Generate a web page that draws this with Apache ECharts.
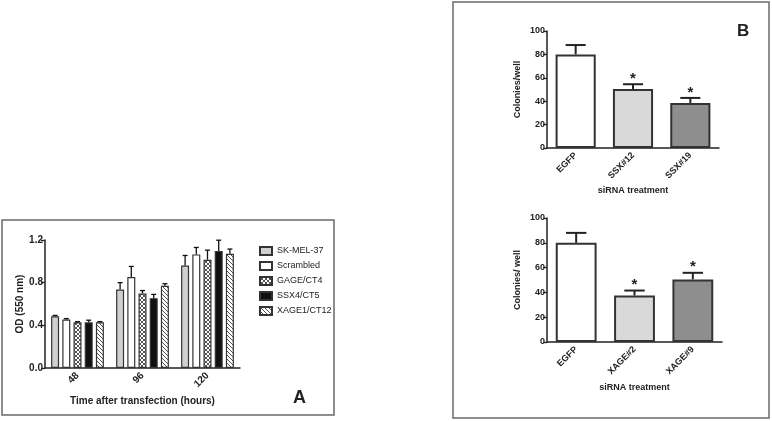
<!DOCTYPE html>
<html>
<head>
<meta charset="utf-8">
<script src="https://cdn.jsdelivr.net/npm/echarts@6/dist/echarts.min.js"></script>
<style>html,body{margin:0;padding:0;background:#fff}#c{width:772px;height:421px}</style>
</head>
<body>
<div id="c"></div>
<script>
// ---------- Data ----------
const timeCats = ['48', '96', '120'];
const aNames = ['SK-MEL-37', 'Scrambled', 'GAGE/CT4', 'SSX4/CT5', 'XAGE1/CT12'];
const skMel = [0.485, 0.735, 0.96];
const skMelErr = [0.008, 0.065, 0.095];
const scrambled = [0.455, 0.852, 1.065];
const scrambledErr = [0.008, 0.10, 0.065];
const gage = [0.428, 0.698, 1.015];
const gageErr = [0.006, 0.028, 0.09];
const ssx4 = [0.428, 0.655, 1.098];
const ssx4Err = [0.02, 0.035, 0.10];
const xage1 = [0.428, 0.77, 1.07];
const xage1Err = [0.007, 0.02, 0.045];
const aTicks = [0, 0.4, 0.8, 1.2];

const b1Cats = ['EGFP', 'SSX#12', 'SSX#19'];
const b1Vals = [80, 50.5, 38.5];
const b1Err = [8, 4, 4.3];
const b1Star = [false, true, true];

const b2Cats = ['EGFP', 'XAGE#2', 'XAGE#9'];
const b2Vals = [80, 37.5, 50.5];
const b2Err = [8, 4, 5.3];
const b2Star = [false, true, true];

// ---------- Patterns ----------
function makePattern(kind) {
  const c = document.createElement('canvas');
  c.width = 4; c.height = 4;
  const g = c.getContext('2d');
  g.fillStyle = '#ffffff'; g.fillRect(0, 0, 4, 4);
  g.strokeStyle = '#555'; g.lineWidth = 1;
  g.beginPath();
  if (kind === 'cross' || kind === 'slash') {
    g.moveTo(0, 4); g.lineTo(4, 0);
  }
  if (kind === 'cross' || kind === 'back') {
    g.moveTo(0, 0); g.lineTo(4, 4);
  }
  g.stroke();
  return { image: c, repeat: 'repeat' };
}

const FONT = 'Liberation Sans, Arial, sans-serif';
const TXT = '#222';
const aVals = [skMel, scrambled, gage, ssx4, xage1];
const aErrs = [skMelErr, scrambledErr, gageErr, ssx4Err, xage1Err];
const aFills = ['#d0d0d0', '#ffffff', makePattern('cross'), '#111111', makePattern('back')];

const BW = 8, GAP = 3.2;

const series = [];
aNames.forEach((n, i) => {
  series.push({
    name: n, type: 'bar', xAxisIndex: 0, yAxisIndex: 0,
    data: aVals[i], barWidth: BW, barGap: (GAP / BW * 100) + '%',
    itemStyle: { color: aFills[i], borderColor: '#333', borderWidth: 1.2 },
    emphasis: { disabled: true }
  });
});

const aErrData = [];
aVals.forEach((arr, si) => arr.forEach((v, ci) => aErrData.push([ci, v, aErrs[si][ci], si])));
series.push({
  type: 'custom', xAxisIndex: 0, yAxisIndex: 0, z: 5, silent: true,
  data: aErrData,
  renderItem: (params, api) => {
    const ci = api.value(0), v = api.value(1), e = api.value(2), si = api.value(3);
    const off = (si - 2) * (BW + GAP);
    const b = api.coord([ci, v]), t = api.coord([ci, v + e]);
    const x = b[0] + off, hw = 2.5;
    const st = { stroke: '#111', lineWidth: 1.3 };
    return { type: 'group', children: [
      { type: 'line', shape: { x1: x, y1: b[1], x2: x, y2: t[1] }, style: st },
      { type: 'line', shape: { x1: x - hw, y1: t[1], x2: x + hw, y2: t[1] }, style: st }
    ]};
  }
});

const bFills = ['#ffffff', '#d9d9d9', '#8e8e8e'];
function addB(idx, vals, errs, stars) {
  series.push({
    type: 'bar', xAxisIndex: idx, yAxisIndex: idx, barWidth: '70%',
    data: vals.map((v, i) => ({ value: v, itemStyle: { color: bFills[i] } })),
    itemStyle: { borderColor: '#333', borderWidth: 2 },
    emphasis: { disabled: true }
  });
  series.push({
    type: 'custom', xAxisIndex: idx, yAxisIndex: idx, z: 5, silent: true,
    data: vals.map((v, i) => [i, v, errs[i], stars[i] ? 1 : 0]),
    renderItem: (params, api) => {
      const ci = api.value(0), v = api.value(1), e = api.value(2), s = api.value(3);
      const b = api.coord([ci, v]), t = api.coord([ci, v + e]);
      const hw = api.size([1, 0])[0] * 0.175;
      const st = { stroke: '#222', lineWidth: 2 };
      const ch = [
        { type: 'line', shape: { x1: b[0], y1: b[1], x2: b[0], y2: t[1] }, style: st },
        { type: 'line', shape: { x1: b[0] - hw, y1: t[1], x2: b[0] + hw, y2: t[1] }, style: st }
      ];
      if (s) ch.push({ type: 'text', style: { text: '*', x: b[0], y: t[1] + 2, align: 'center', verticalAlign: 'bottom', font: 'bold 15px ' + FONT, fill: '#222' } });
      return { type: 'group', children: ch };
    }
  });
}
addB(1, b1Vals, b1Err, b1Star);
addB(2, b2Vals, b2Err, b2Star);

function xAx(idx, cats, name, gap, fs) {
  return {
    type: 'category', gridIndex: idx, data: cats,
    axisLine: { lineStyle: { color: '#222', width: 1.5 } },
    axisTick: { alignWithLabel: true, length: 4, lineStyle: { color: '#222', width: 1.3 } },
    axisLabel: { rotate: 45, color: TXT, fontFamily: FONT, fontWeight: 'bold', fontSize: fs, margin: 6 },
    name: name, nameLocation: 'middle', nameGap: gap,
    nameTextStyle: { color: TXT, fontFamily: FONT, fontWeight: 'bold', fontSize: idx === 0 ? 10 : 9 }
  };
}
function yAx(idx, max, interval, name, gap, fs, fmt) {
  return {
    type: 'value', gridIndex: idx, min: 0, max: max, interval: interval,
    axisLine: { show: true, lineStyle: { color: '#222', width: 1.5 } },
    axisTick: { show: true, length: 4, lineStyle: { color: '#222', width: 1.3 } },
    splitLine: { show: false },
    axisLabel: { color: TXT, fontFamily: FONT, fontWeight: 'bold', fontSize: fs, margin: 2, formatter: fmt },
    name: name, nameLocation: 'middle', nameGap: gap,
    nameTextStyle: { color: TXT, fontFamily: FONT, fontWeight: 'bold', fontSize: idx === 0 ? 10 : 9 }
  };
}

const chart = echarts.init(document.getElementById('c'), null, { renderer: 'canvas' });
chart.setOption({
  animation: false,
  backgroundColor: '#fff',
  grid: [
    { left: 45, top: 240, width: 195, height: 128 },
    { left: 547, top: 31, width: 172, height: 117 },
    { left: 547, top: 218, width: 175, height: 124 }
  ],
  xAxis: [
    xAx(0, timeCats, 'Time after transfection (hours)', 28, 10),
    xAx(1, b1Cats, 'siRNA treatment', 38, 9),
    xAx(2, b2Cats, 'siRNA treatment', 41, 9)
  ],
  yAxis: [
    yAx(0, aTicks[aTicks.length - 1], aTicks[1] - aTicks[0], 'OD (550 nm)', 16, 10, v => v.toFixed(1)),
    yAx(1, 100, 20, 'Colonies/well', 25, 9),
    yAx(2, 100, 20, 'Colonies/ well', 25, 9)
  ],
  legend: {
    data: aNames, orient: 'vertical', left: 254, top: 241,
    icon: 'rect',
    itemWidth: 12, itemHeight: 8, itemGap: 5,
    textStyle: { color: TXT, fontFamily: FONT, fontSize: 9, lineHeight: 10 },
    selectedMode: false
  },
  graphic: [
    { type: 'rect', shape: { x: 2, y: 220, width: 332, height: 195 }, style: { fill: 'none', stroke: '#6a6a6a', lineWidth: 1.5 }, z: -1 },
    { type: 'rect', shape: { x: 453, y: 2, width: 316, height: 416 }, style: { fill: 'none', stroke: '#6a6a6a', lineWidth: 1.5 }, z: -1 },
    { type: 'text', left: 293, top: 389, style: { text: 'A', font: 'bold 18px ' + FONT, fill: '#222' } },
    { type: 'text', left: 737, top: 23, style: { text: 'B', font: 'bold 17px ' + FONT, fill: '#222' } }
  ],
  series: series
});
</script>
</body>
</html>
